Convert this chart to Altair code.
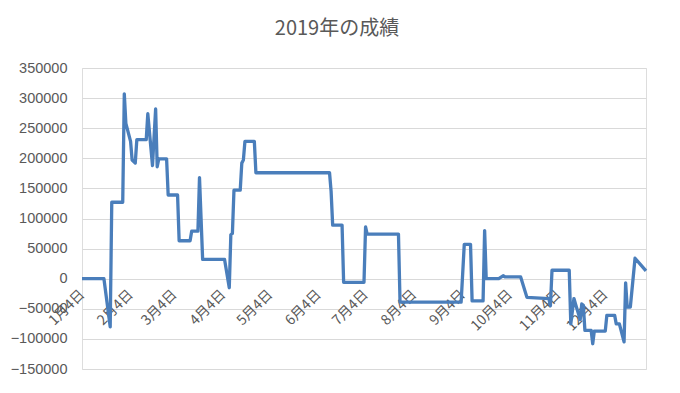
import altair as alt
import pandas as pd

dates = ["2019-01-04", "2019-01-18", "2019-01-22", "2019-01-23", "2019-01-30", "2019-01-31",
         "2019-02-01", "2019-02-04", "2019-02-05", "2019-02-07", "2019-02-08", "2019-02-14",
         "2019-02-15", "2019-02-18", "2019-02-20", "2019-02-21", "2019-02-22", "2019-02-27",
         "2019-02-28", "2019-03-06", "2019-03-07", "2019-03-14", "2019-03-15", "2019-03-19",
         "2019-03-20", "2019-03-22", "2019-04-05", "2019-04-08", "2019-04-09", "2019-04-10",
         "2019-04-11", "2019-04-15", "2019-04-16", "2019-04-17", "2019-04-18", "2019-04-24",
         "2019-04-25", "2019-06-11", "2019-06-12", "2019-06-13", "2019-06-19", "2019-06-20",
         "2019-07-03", "2019-07-04", "2019-07-05", "2019-07-25", "2019-07-26", "2019-09-03",
         "2019-09-05", "2019-09-09", "2019-09-10", "2019-09-17", "2019-09-18", "2019-09-19",
         "2019-09-27", "2019-09-30", "2019-10-01", "2019-10-11", "2019-10-15", "2019-10-29",
         "2019-10-30", "2019-10-31", "2019-11-11", "2019-11-12", "2019-11-14", "2019-11-15",
         "2019-11-18", "2019-11-19", "2019-11-20", "2019-11-21", "2019-11-25", "2019-11-26",
         "2019-11-27", "2019-12-04", "2019-12-05", "2019-12-10", "2019-12-11", "2019-12-13",
         "2019-12-16", "2019-12-17", "2019-12-18", "2019-12-20", "2019-12-23", "2019-12-30"]

values = [0, 0, -80000, 127000, 127000, 307000,
          258000, 228000, 197000, 192000, 231000, 231000,
          274000, 188000, 282000, 186000, 199000, 199000,
          139000, 139000, 63000, 63000, 79000, 79000,
          168000, 32000, 32000, -15000, 73000, 75000,
          147000, 147000, 192000, 197000, 228000, 228000,
          176000, 176000, 145000, 89000, 89000, -6000,
          -6000, 86000, 74000, 74000, -39000, -39000,
          57000, 57000, -37000, -37000, 80000, 0,
          0, 5000, 3000, 3000, -31000, -33000,
          -45000, 14000, 14000, -75000, -33000, -42000,
          -68000, -42000, -44000, -86000, -86000, -108000,
          -87000, -87000, -61000, -61000, -75000, -75000,
          -105000, -7000, -47000, -47000, 34000, 13000]

assert len(dates) == len(values)

tick_dates = ["2019-01-04", "2019-02-04", "2019-03-04", "2019-04-04", "2019-05-04", "2019-06-04",
              "2019-07-04", "2019-08-04", "2019-09-04", "2019-10-04", "2019-11-04", "2019-12-04"]
y_ticks = [-150000, -100000, -50000, 0, 50000, 100000, 150000, 200000, 250000, 300000, 350000]
title_text = "2019年の成績"

df = pd.DataFrame({"date": dates, "value": values})


def dt(s):
    y, m, d = (int(p) for p in s.split("-"))
    return alt.DateTime(year=y, month=m, date=d, utc=True)


GRID = "#d9d9d9"
TXT = "#595959"

line = alt.Chart(df).mark_line(color="#4a7ebb", strokeWidth=3.3, strokeJoin="round").encode(
    x=alt.X("date:T",
            scale=alt.Scale(type="utc", domain=[dt(dates[0]), dt(dates[-1])]),
            axis=alt.Axis(title=None, values=[dt(s) for s in tick_dates], format="%-m月%-d日",
                          labelAngle=315, labelAlign="right", labelBaseline="middle",
                          labelPadding=13, ticks=False, grid=False, domainColor=GRID,
                          domainWidth=1, offset=-90, labelOverlap=False, labelBound=False,
                          labelFlush=False, labelFont="Noto Sans CJK JP", labelFontSize=14,
                          labelColor=TXT)),
    y=alt.Y("value:Q",
            scale=alt.Scale(domain=[-150000, 350000], nice=False, zero=False),
            axis=alt.Axis(title=None, values=y_ticks, format="d", ticks=False, domain=False,
                          gridColor=GRID, gridWidth=1, labelPadding=15,
                          labelFont="Liberation Sans", labelFontSize=14.5, labelColor=TXT)),
)

chart = line.properties(
    width=564, height=301,
    padding={"left": 74, "top": 60, "right": 26, "bottom": 16},
    autosize=alt.AutoSizeParams(type="none"),
    title=alt.TitleParams(title_text, font="Noto Sans CJK JP", fontSize=20, fontWeight="normal",
                          color=TXT, anchor="middle", frame="group", dx=-27, offset=21),
).configure_view(stroke=None).configure(background="white")

chart.save("out.html", embed_options={"renderer": "svg", "actions": False})
